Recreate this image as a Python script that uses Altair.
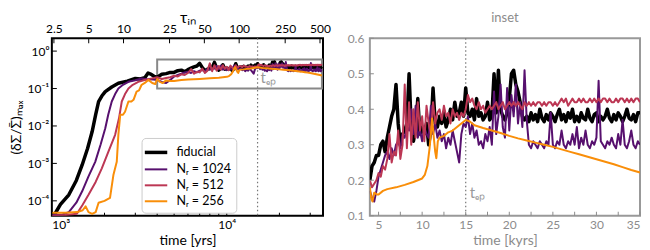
import altair as alt
import numpy as np
import pandas as pd

FONT = "Lato"
GRAY = "#8c8c8c"

series_names = ["fiducial", "Nᵣ = 1024", "Nᵣ = 512", "Nᵣ = 256"]
series_colors = ["#000000", "#57106e", "#bc3754", "#f98e09"]
series_widths = [3.5, 2, 2, 2]

# ---- early growth phase (time in kyr) ----
fid_t0 = [1.0, 1.05, 1.12, 1.25, 1.38, 1.49, 1.6, 1.7, 1.78, 1.85, 1.93, 2.02, 2.2, 2.4, 2.7, 3.0, 3.2, 3.4, 3.55, 3.7, 3.85]
fid_v0 = [4.0e-5, 4.8e-5, 8e-5, 1.45e-4, 3.5e-4, 9.1e-4, 2.5e-3, 7.1e-3, 0.02, 0.045, 0.063, 0.083, 0.11, 0.138, 0.158, 0.186, 0.18, 0.195, 0.26, 0.24, 0.21]

n1024_t0 = [1.0, 1.15, 1.25, 1.38, 1.49, 1.62, 1.77, 1.9, 2.02, 2.1, 2.2, 2.3, 2.4, 2.55, 2.74, 3.0, 3.26, 3.5, 3.8]
n1024_v0 = [4.2e-5, 4.3e-5, 5e-5, 8.9e-5, 1.8e-4, 4.5e-4, 1.1e-3, 3.2e-3, 8.7e-3, 0.02, 0.045, 0.071, 0.1, 0.126, 0.151, 0.166, 0.186, 0.178, 0.174]

n512_t0 = [1.0, 1.2, 1.39, 1.5, 1.62, 1.78, 1.93, 2.1, 2.3, 2.42, 2.51, 2.62, 2.74, 2.9, 3.12, 3.35, 3.56, 3.8]
n512_v0 = [4e-5, 4.2e-5, 4.5e-5, 7.9e-5, 1.45e-4, 3.2e-4, 7.4e-4, 2e-3, 5.8e-3, 0.016, 0.045, 0.071, 0.1, 0.126, 0.151, 0.166, 0.178, 0.19]

n256_t0 = [1.0, 1.2, 1.4, 1.5, 1.56, 1.62, 1.7, 1.78, 1.85, 2.0, 2.15, 2.25, 2.35, 2.4, 2.46, 2.55, 2.62, 2.74, 2.85, 2.93, 3.05, 3.15, 3.26, 3.4, 3.56, 3.75, 3.9]
n256_v0 = [4.8e-5, 4.8e-5, 5e-5, 5.6e-5, 7.1e-5, 5e-5, 4.5e-5, 5e-5, 8.9e-5, 1e-4, 1.2e-4, 5e-4, 1.1e-3, 5.8e-3, 0.02, 0.02, 0.024, 0.045, 0.045, 0.05, 0.083, 0.089, 0.126, 0.141, 0.17, 0.141, 0.132]

# ---- saturated phase, sampled every 0.25 kyr from 4 to 35 kyr ----
t_grid = [round(4.0 + 0.25 * i, 2) for i in range(125)]

fid_v1 = [
    0.20, 0.24, 0.25, 0.27,  0.27, 0.30, 0.31, 0.28,  0.32, 0.35, 0.38, 0.40,
    0.47, 0.36, 0.30, 0.33,  0.34, 0.36, 0.50, 0.35,  0.31, 0.34, 0.43, 0.33,
    0.35, 0.33, 0.36, 0.30,  0.34, 0.46, 0.36, 0.35,  0.38, 0.36, 0.39, 0.35,
    0.37, 0.40, 0.37, 0.42,  0.38, 0.39, 0.42, 0.38,  0.46, 0.39, 0.38, 0.40,
    0.37, 0.43, 0.38, 0.39,  0.37, 0.38, 0.42, 0.37,  0.38, 0.50, 0.39, 0.51,
    0.40, 0.38, 0.37, 0.39,  0.43, 0.50, 0.51, 0.47,  0.45, 0.42, 0.38, 0.37,
    0.38, 0.365, 0.39, 0.37, 0.385, 0.365, 0.40, 0.375, 0.365, 0.385, 0.37, 0.39,
    0.38, 0.365, 0.385, 0.40, 0.37, 0.385, 0.365, 0.39, 0.375, 0.40, 0.365, 0.38,
    0.365, 0.39, 0.375, 0.37, 0.40, 0.375, 0.365, 0.385, 0.39, 0.365, 0.38, 0.37,
    0.38, 0.40, 0.375, 0.365, 0.385, 0.37, 0.39, 0.38, 0.365, 0.38, 0.40, 0.375,
    0.37, 0.385, 0.365, 0.39, 0.39,
]

n512_v1 = [
    0.20, 0.18, 0.19, 0.20,  0.22, 0.21, 0.24, 0.23,  0.26, 0.33, 0.25, 0.28,
    0.27, 0.34, 0.26, 0.30,  0.47, 0.29, 0.42, 0.30,  0.40, 0.32, 0.42, 0.34,
    0.38, 0.31, 0.41, 0.36,  0.33, 0.42, 0.36, 0.39,  0.40, 0.37, 0.41, 0.38,
    0.39, 0.36, 0.40, 0.38,  0.39, 0.37, 0.39, 0.38,  0.40, 0.44, 0.42, 0.43,
    0.41, 0.40, 0.42, 0.40,  0.41, 0.39, 0.40, 0.41,  0.40, 0.41, 0.42, 0.40,
    0.41, 0.42, 0.40, 0.41,  0.42, 0.41, 0.42, 0.41,  0.42, 0.41, 0.40, 0.42,
    0.41, 0.42, 0.41, 0.42,  0.41, 0.42, 0.42, 0.41,  0.42, 0.41, 0.42, 0.42,
    0.41, 0.42, 0.41, 0.42,  0.43, 0.42, 0.43, 0.41,  0.42, 0.43, 0.42, 0.42,
    0.43, 0.42, 0.43, 0.42,  0.42, 0.43, 0.42, 0.43,  0.42, 0.43, 0.42, 0.43,
    0.43, 0.42, 0.43, 0.42,  0.42, 0.43, 0.42, 0.43,  0.43, 0.42, 0.43, 0.42,
    0.43, 0.42, 0.43, 0.43,  0.42,
]

n1024_v1 = [
    0.17, 0.15, 0.14, 0.17,  0.21, 0.23, 0.25, 0.27,  0.28, 0.26, 0.29, 0.27,
    0.30, 0.31, 0.29, 0.33,  0.32, 0.35, 0.34, 0.40,  0.33, 0.41, 0.32, 0.34,
    0.31, 0.35, 0.33, 0.32,  0.41, 0.33, 0.36, 0.32,  0.34, 0.31, 0.33, 0.29,
    0.32, 0.30, 0.34, 0.31,  0.28, 0.25, 0.33, 0.36,  0.35, 0.38, 0.33, 0.36,
    0.32, 0.34, 0.30, 0.31,  0.29, 0.33, 0.31, 0.35,  0.30, 0.45, 0.33, 0.38,
    0.47, 0.35, 0.32, 0.46,  0.34, 0.44, 0.38, 0.47,  0.36, 0.42, 0.35, 0.51,
    0.37, 0.30, 0.29, 0.31,  0.30, 0.29, 0.31, 0.30,  0.29, 0.31, 0.30, 0.39,
    0.30, 0.29, 0.31, 0.30,  0.34, 0.30, 0.29, 0.31,  0.30, 0.33, 0.30, 0.35,
    0.29, 0.32, 0.30, 0.34,  0.30, 0.29, 0.31, 0.30,  0.32, 0.48, 0.31, 0.30,
    0.29, 0.31, 0.30, 0.32,  0.30, 0.29, 0.33, 0.30,  0.37, 0.30, 0.29, 0.31,
    0.34, 0.30, 0.29, 0.31,  0.30,
]

n256_t1 = [4.0, 4.15, 4.3, 4.5, 4.8, 5.0, 5.5, 6.0, 7.0, 8.0, 9.0, 9.5, 10.0, 10.3, 10.6, 10.85, 11.0, 11.14, 11.3, 11.5,
           11.63, 11.8, 12.0, 12.5, 13.0, 13.5, 14.0, 14.5, 15.0, 15.5, 16.0, 17.0, 18.0, 19.0, 20.0, 21.0, 22.0, 23.0,
           24.0, 25.0, 26.0, 27.0, 28.0, 29.0, 30.0, 31.0, 32.0, 33.0, 34.0, 35.0]
n256_v1 = [0.18, 0.15, 0.14, 0.165, 0.16, 0.16, 0.17, 0.175, 0.18, 0.187, 0.195, 0.20, 0.205, 0.215, 0.24, 0.29, 0.33, 0.374, 0.33, 0.28,
           0.262, 0.31, 0.32, 0.325, 0.335, 0.34, 0.35, 0.36, 0.37, 0.365, 0.355, 0.347, 0.34, 0.333, 0.325, 0.318, 0.312, 0.306,
           0.300, 0.294, 0.287, 0.280, 0.273, 0.266, 0.259, 0.252, 0.245, 0.237, 0.229, 0.222]

# inset box / epoch marker
inset_t = [4.0, 35.0]
inset_v = [0.1, 0.6]
t_ep = 15.0

# tick values
tau_ticks = [2.5, 5, 10, 25, 50, 100, 250, 500]
left_x_major = [1000, 10000]
left_x_minor = [2000, 3000, 4000, 5000, 6000, 7000, 8000, 9000, 20000, 30000]
left_y_ticks = [1e-4, 1e-3, 1e-2, 1e-1, 1.0]
right_x_ticks = [5, 7.5, 10, 12.5, 15, 17.5, 20, 22.5, 25, 27.5, 30, 32.5, 35]
right_x_labels = [5, 10, 15, 20, 25, 30, 35]
right_y_ticks = [0.1, 0.2, 0.3, 0.4, 0.5, 0.6]

# ---- build table ----
rows = []
def add(name, order, ts, vs):
    for t, v in zip(ts, vs):
        rows.append({"series": name, "order": order, "t": t, "v": v})

add(series_names[0], 0, fid_t0 + t_grid, fid_v0 + fid_v1)
add(series_names[1], 1, n1024_t0 + t_grid, n1024_v0 + n1024_v1)
add(series_names[2], 2, n512_t0 + t_grid, n512_v0 + n512_v1)
add(series_names[3], 3, n256_t0 + n256_t1, n256_v0 + n256_v1)
df = pd.DataFrame(rows)
df["t_yr"] = df["t"] * 1000

W, H = 272, 178
WR = 271

leg = alt.Legend(title=None, orient="none", legendX=90, legendY=100,
                 symbolType="M-1.5,0L1.5,0", symbolSize=225, labelFont=FONT, labelFontSize=12.5,
                 labelColor="#000", fillColor="white", strokeColor="#cccccc",
                 cornerRadius=4, padding=5, rowPadding=1, labelOffset=11)
color = alt.Color("series:N", scale=alt.Scale(domain=series_names, range=series_colors), legend=leg)
swidth = alt.StrokeWidth("series:N", scale=alt.Scale(domain=series_names, range=series_widths, type="ordinal"),
                         legend=leg)

# ----- left panel -----
xl_scale = alt.Scale(type="log", domain=[1000, 35500], nice=False)
yl_scale = alt.Scale(type="log", domain=[4e-5, 2.2], nice=False)
tau_scale = alt.Scale(type="log", domain=[2.4, 531], nice=False)

ax_lx = alt.Axis(values=left_x_major, labelExpr="datum.value >= 5000 ? '10⁴' : '10³'",
                 title="time [yrs]", tickSize=0, grid=False, domain=False, labelPadding=4,
                 labelFont=FONT, labelFontSize=12, labelColor="#000", titleFont=FONT,
                 titleFontSize=14, titleFontWeight="normal", titleColor="#000", titlePadding=3)
ax_ly = alt.Axis(values=left_y_ticks,
                 labelExpr="datum.value >= 0.5 ? '10⁰' : datum.value >= 0.05 ? '10⁻¹' : datum.value >= 0.005 ? '10⁻²' : datum.value >= 0.0005 ? '10⁻³' : '10⁻⁴'",
                 title="(δΣ/Σ̄)ₘₐₓ", tickSize=0, grid=False, domain=False, labelPadding=3,
                 labelFont=FONT, labelFontSize=12, labelColor="#000", titleFont=FONT,
                 titleFontSize=14, titleFontWeight="normal", titleColor="#000", titlePadding=4)

def XL(f):
    return alt.X(f, type="quantitative", scale=xl_scale, axis=ax_lx)

def YL(f):
    return alt.Y(f, type="quantitative", scale=yl_scale, axis=ax_ly)

lines_left = alt.Chart(df).mark_line(clip=True, strokeJoin="round").encode(
    x=XL("t_yr"), y=YL("v"), color=color, strokeWidth=swidth, order=alt.Order("order:Q"))

box_df = pd.DataFrame({"x0": [inset_t[0] * 1000], "x1": [inset_t[1] * 1000], "y0": [inset_v[0]], "y1": [inset_v[1]]})
box = alt.Chart(box_df).mark_rect(fillOpacity=0, stroke="#888888", strokeWidth=2).encode(
    x=XL("x0"), x2="x1:Q", y=YL("y0"), y2="y1:Q")

ep_df = pd.DataFrame({"t": [t_ep], "t_yr": [t_ep * 1000], "lab": ["tₑₚ"], "yl": [0.19], "yr": [0.165]})
ep_left = alt.Chart(ep_df).mark_rule(color="#777777", strokeDash=[1.5, 2.5], strokeWidth=1.2).encode(
    x=XL("t_yr"))
ep_text_left = alt.Chart(ep_df).mark_text(align="left", baseline="middle", dx=3, font=FONT, fontSize=15,
                                          color="#999999").encode(
    x=XL("t_yr"), y=YL("yl"), text="lab:N")

lxM = pd.DataFrame({"x": left_x_major})
lxm = pd.DataFrame({"x": left_x_minor})
lyt = pd.DataFrame({"y": left_y_ticks})
ticks_lx_major = alt.Chart(lxM).mark_rule(color="#000", strokeWidth=1).encode(
    x=XL("x"), y=alt.value(H), y2=alt.value(H - 5))
ticks_lx_minor = alt.Chart(lxm).mark_rule(color="#000", strokeWidth=1).encode(
    x=XL("x"), y=alt.value(H), y2=alt.value(H - 3))
ticks_ly = alt.Chart(lyt).mark_rule(color="#000", strokeWidth=1).encode(
    y=YL("y"), x=alt.value(0), x2=alt.value(5))

inner_left = alt.layer(box, ep_left, lines_left, ep_text_left, ticks_lx_major, ticks_lx_minor, ticks_ly)

tau_df = pd.DataFrame({"tau": tau_ticks})
tau_layer = alt.Chart(tau_df).mark_rule(color="#000", strokeWidth=1).encode(
    x=alt.X("tau:Q", scale=tau_scale,
            axis=alt.Axis(orient="top", values=tau_ticks, format="~g", title="τᵢₙ", tickSize=0, grid=False,
                          domain=False, labelPadding=3, labelFont=FONT, labelFontSize=12, labelColor="#000",
                          labelFlush=False, labelOverlap=False, titleFont=FONT, titleFontSize=16,
                          titleFontWeight="normal", titleColor="#000", titleY=-16, titleBaseline="alphabetic")),
    y=alt.value(0), y2=alt.value(5))

left = alt.layer(inner_left, tau_layer).resolve_scale(x="independent").properties(
    width=W, height=H, view=alt.ViewBackground(stroke="#000", strokeWidth=2))

# ----- right panel -----
xr_scale = alt.Scale(domain=[4, 35], nice=False, zero=False)
yr_scale = alt.Scale(domain=[0.1, 0.6], nice=False, zero=False)
ax_rx = alt.Axis(values=right_x_labels, title="time [kyrs]", tickSize=0, grid=False, domain=False,
                 labelPadding=4, labelFont=FONT, labelFontSize=12, labelColor=GRAY, titleFont=FONT,
                 titleFontSize=14, titleFontWeight="normal", titleColor=GRAY, titlePadding=3)
ax_ry = alt.Axis(values=right_y_ticks, format=".1f", title=None, tickSize=0, grid=False, domain=False,
                 labelPadding=6, labelFont=FONT, labelFontSize=12, labelColor=GRAY)

def XR(f):
    return alt.X(f, type="quantitative", scale=xr_scale, axis=ax_rx)

def YR(f):
    return alt.Y(f, type="quantitative", scale=yr_scale, axis=ax_ry)

df_r = df[df["t"] >= 4.0]
lines_right = alt.Chart(df_r).mark_line(clip=True, strokeJoin="round").encode(
    x=XR("t"), y=YR("v"),
    color=alt.Color("series:N", scale=alt.Scale(domain=series_names, range=series_colors), legend=None),
    strokeWidth=alt.StrokeWidth("series:N", scale=alt.Scale(domain=series_names, range=series_widths, type="ordinal"),
                                legend=None),
    order=alt.Order("order:Q"),
)
ep_right = alt.Chart(ep_df).mark_rule(color="#777777", strokeDash=[1.5, 2.5], strokeWidth=1.2).encode(x=XR("t"))
ep_text_right = alt.Chart(ep_df).mark_text(align="left", baseline="middle", dx=4, font=FONT, fontSize=15,
                                           color="#999999").encode(x=XR("t"), y=YR("yr"), text="lab:N")
rxt = pd.DataFrame({"x": right_x_ticks})
ryt = pd.DataFrame({"y": right_y_ticks})
ticks_rx = alt.Chart(rxt).mark_rule(color=GRAY, strokeWidth=1).encode(
    x=XR("x"), y=alt.value(H), y2=alt.value(H - 4))
ticks_ry = alt.Chart(ryt).mark_rule(color=GRAY, strokeWidth=1).encode(
    y=YR("y"), x=alt.value(0), x2=alt.value(4))

right = alt.layer(ep_right, lines_right, ep_text_right, ticks_rx, ticks_ry).properties(
    width=WR, height=H, view=alt.ViewBackground(stroke="#999999", strokeWidth=2),
    title=alt.TitleParams("inset", color=GRAY, font=FONT, fontSize=13, fontWeight="normal", offset=7))

chart = alt.hconcat(left, right, spacing=14).resolve_scale(
    x="independent", y="independent", color="independent", strokeWidth="independent"
).properties(padding={"left": 0, "top": 0, "right": 0, "bottom": 0}).configure(font=FONT)

chart.save("out.html", embed_options={"renderer": "svg", "actions": False})
